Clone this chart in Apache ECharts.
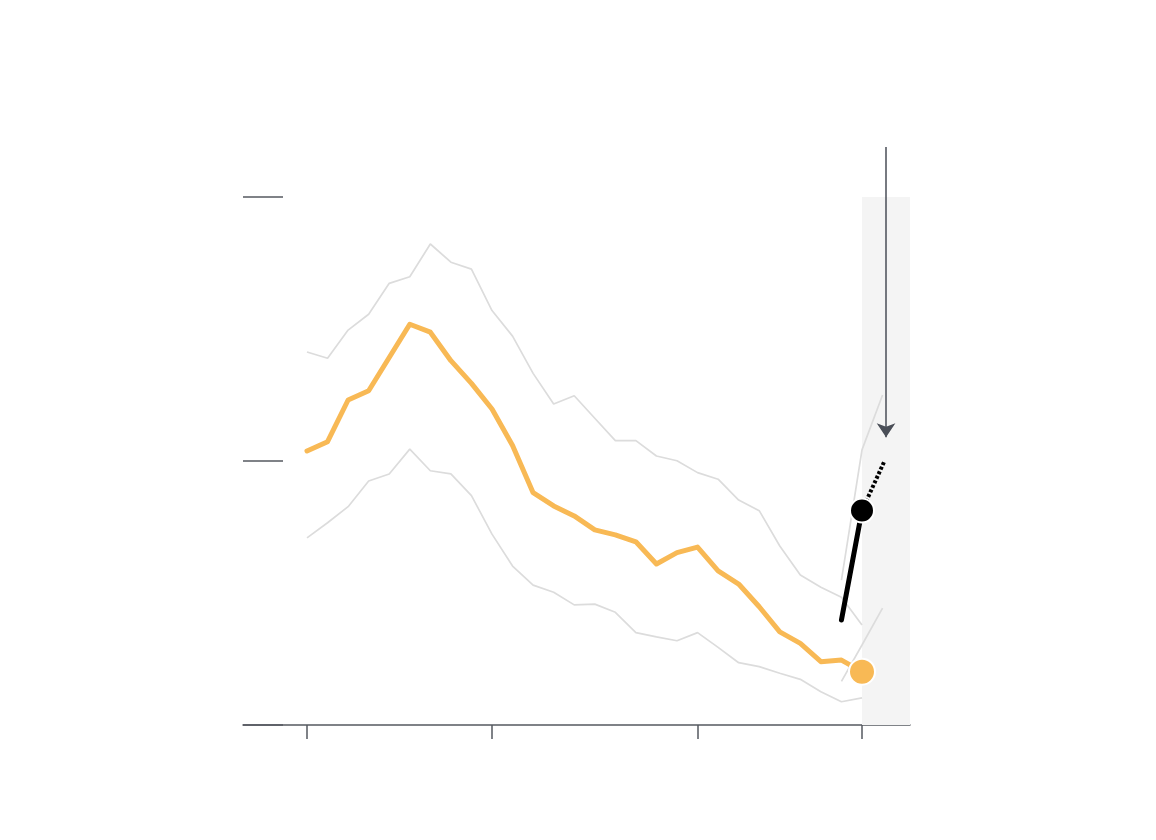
<!DOCTYPE html>
<html>
<head>
<meta charset="utf-8">
<script src="https://cdn.jsdelivr.net/npm/echarts@6/dist/echarts.min.js"></script>
<style>
html,body{margin:0;padding:0;background:#fff;}
#chart{width:1156px;height:840px;}
</style>
</head>
<body>
<div id="chart"></div>
<script>
// x positions are period indices (0..28); index 27 is the latest period (shaded)
const xTicks = [0, 9, 19, 27];
const yTicks = [0, 1, 2];

const central = [1.038, 1.073, 1.231, 1.266, 1.392, 1.518, 1.488, 1.380, 1.294, 1.197,
  1.059, 0.880, 0.830, 0.792, 0.739, 0.720, 0.694, 0.610, 0.653, 0.674,
  0.584, 0.534, 0.448, 0.353, 0.309, 0.240, 0.246, 0.202];
const upper = [1.413, 1.389, 1.496, 1.556, 1.673, 1.698, 1.822, 1.753, 1.727, 1.570,
  1.473, 1.332, 1.216, 1.247, 1.162, 1.077, 1.077, 1.019, 1.001, 0.956,
  0.931, 0.852, 0.812, 0.678, 0.568, 0.522, 0.484, 0.379];
const lower = [0.709, 0.766, 0.827, 0.924, 0.951, 1.045, 0.963, 0.951, 0.869, 0.723,
  0.602, 0.530, 0.503, 0.455, 0.458, 0.427, 0.350, 0.334, 0.319, 0.350,
  0.294, 0.236, 0.221, 0.196, 0.173, 0.126, 0.088, 0.103];
// projected band (indices 26..28)
const projIdx = [26, 27, 28];
const projUpper = [0.549, 1.042, 1.250];
const projLower = [0.165, 0.303, 0.443];
// black estimate line
const estIdx = [26, 27];
const estimate = [0.398, 0.8125];
const estForwardIdx = [27, 28.07];
const estForward = [0.8125, 0.996];
// latest observed point
const latestIdx = 27;
const latestValue = 0.202;
// arrow annotation (x index, from value, to value)
const arrowX = 28.17;
const arrowFrom = 2.189;
const arrowTo = 1.09;
// shaded period
const shadeFrom = 27;
const shadeTop = 2;

const X_MIN = -3.1135, X_MAX = 29.335;

const pairs = (xs, ys) => ys.map((v, i) => [xs[i], v]);
const idx = central.map((_, i) => i);

const grayStyle = {color: '#dcdcdc', width: 1.7};

const chart = echarts.init(document.getElementById('chart'));
chart.setOption({
  animation: false,
  grid: {left: 243, right: 246, top: 147, bottom: 115, containLabel: false},
  xAxis: {
    type: 'value', min: X_MIN, max: X_MAX,
    splitLine: {show: false},
    axisLine: {show: true, onZero: false, lineStyle: {color: '#555a60', width: 1.5}},
    axisTick: {show: true, length: 14, customValues: xTicks, lineStyle: {color: '#555a60', width: 1.5}},
    axisLabel: {show: false}
  },
  yAxis: {
    type: 'value', min: 0, max: 2.1894,
    splitLine: {show: false},
    axisLine: {show: false, onZero: false},
    axisTick: {show: true, inside: true, length: 40, customValues: yTicks, lineStyle: {color: '#555a60', width: 1.5}},
    axisLabel: {show: false}
  },
  series: [
    {
      type: 'line', data: pairs(idx, upper), symbol: 'none', lineStyle: grayStyle, z: 2,
      markArea: {
        silent: true,
        itemStyle: {color: '#f4f4f4', opacity: 1},
        data: [[{coord: [shadeFrom, 0]}, {coord: [X_MAX, shadeTop]}]]
      }
    },
    {type: 'line', data: pairs(idx, lower), symbol: 'none', lineStyle: grayStyle, z: 2},
    {type: 'line', data: pairs(projIdx, projUpper), symbol: 'none', lineStyle: grayStyle, z: 2},
    {type: 'line', data: pairs(projIdx, projLower), symbol: 'none', lineStyle: grayStyle, z: 2},
    {type: 'line', data: pairs(idx, central), symbol: 'none',
      lineStyle: {color: '#f8b955', width: 5, join: 'round', cap: 'round'}, z: 3},
    {type: 'line', data: pairs(estForwardIdx, estForward), symbol: 'none',
      lineStyle: {color: '#000', width: 4, type: [3, 2], cap: 'butt'}, z: 4},
    {type: 'line', data: pairs(estIdx, estimate), symbol: 'none',
      lineStyle: {color: '#000', width: 5, cap: 'round'}, z: 4},
    {type: 'scatter', data: [[estIdx[1], estimate[1]]], symbolSize: 24,
      itemStyle: {color: '#000', borderColor: '#fff', borderWidth: 2, opacity: 1}, z: 5},
    {type: 'scatter', data: [[latestIdx, latestValue]], symbolSize: 26,
      itemStyle: {color: '#f8b955', borderColor: '#fff', borderWidth: 2, opacity: 1}, z: 5},
    {
      type: 'lines', coordinateSystem: 'cartesian2d', z: 6,
      symbol: ['none', 'arrow'], symbolSize: [10, 14],
      lineStyle: {color: '#4a4e57', width: 1.5, opacity: 1, curveness: 0},
      data: [{coords: [[arrowX, arrowFrom], [arrowX, arrowTo]]}]
    }
  ]
});
</script>
</body>
</html>
